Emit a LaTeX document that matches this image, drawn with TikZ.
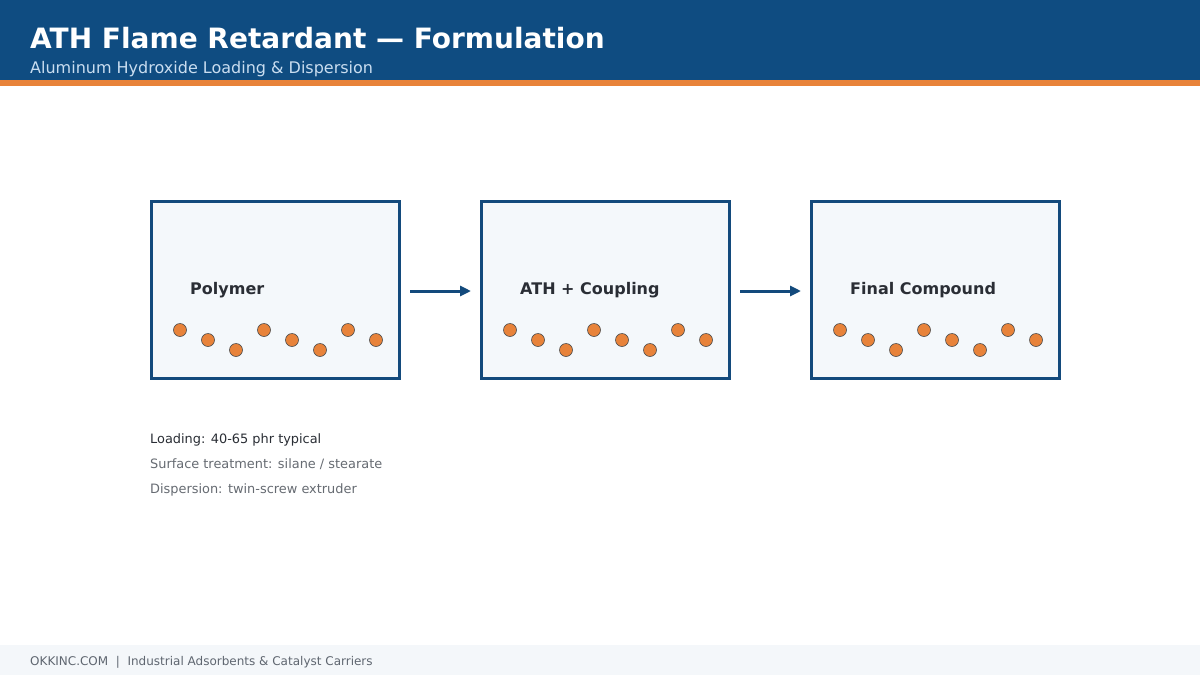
\documentclass[tikz,border=0pt]{standalone}
\usepackage{fontspec}
\setmainfont{DejaVu Sans}
\usetikzlibrary{arrows.meta}
\definecolor{hdr}{HTML}{0F4C81}
\definecolor{accent}{HTML}{E8833A}
\definecolor{subt}{HTML}{C9DDF0}
\definecolor{boxfill}{HTML}{F4F8FB}
\definecolor{boxline}{HTML}{134A7C}
\definecolor{txtdark}{HTML}{2A2E35}
\definecolor{txtgrey}{HTML}{666B72}
\definecolor{footfill}{HTML}{F4F7FA}
\definecolor{foottxt}{HTML}{5F6670}
\tikzset{
  stagebox/.style={draw=boxline, line width=2.5pt, fill=boxfill, minimum width=248pt, minimum height=177pt, inner sep=0pt, anchor=north west},
  stagelabel/.style={font=\fontsize{16}{19}\selectfont\bfseries, text=txtdark, anchor=west, inner sep=0pt},
  particle/.style={circle, draw=black!70, line width=0.6pt, fill=accent, minimum size=13pt, inner sep=0pt},
  flow/.style={draw=boxline, line width=3pt, -{Triangle[length=11pt,width=10pt]}},
  note/.style={anchor=base west, inner sep=0pt, font=\fontsize{12.9}{15}\selectfont},
}
\begin{document}
\begin{tikzpicture}[x=1pt,y=-1pt]
\useasboundingbox (0,0) rectangle (1200,675);
\fill[white] (0,0) rectangle (1200,675);
% header
\fill[hdr] (0,0) rectangle (1200,80);
\fill[accent] (0,80) rectangle (1200,86);
\node[anchor=base west, inner sep=0pt, text=white, font=\fontsize{28}{32}\selectfont\bfseries] (title) at (30,48) {ATH Flame Retardant — Formulation};
\node[anchor=base west, inner sep=0pt, text=subt, font=\fontsize{16}{19}\selectfont] (subtitle) at (30,73) {Aluminum Hydroxide Loading \& Dispersion};
% boxes
\node[stagebox] (b1) at (150,200) {};
\node[stagebox] (b2) at (480,200) {};
\node[stagebox] (b3) at (810,200) {};
\node[stagelabel] (l1) at (190,290) {Polymer};
\node[stagelabel] (l2) at (520,290) {ATH + Coupling};
\node[stagelabel] (l3) at (850,290) {Final Compound};
% particles
\foreach \bx/\bn in {151/a,481/b,811/c}{
  \foreach \i in {0,...,7}{
    \pgfmathsetmacro{\px}{\bx+29+28*\i}
    \pgfmathsetmacro{\py}{330+10*mod(\i,3)}
    \node[particle] (p\bn\i) at (\px,\py) {};
  }
}
% arrows
\coordinate (a1s) at (410,291);
\coordinate (a1e) at (471,291);
\coordinate (a2s) at (740,291);
\coordinate (a2e) at (801,291);
\draw[flow] (a1s) -- (a1e);
\draw[flow] (a2s) -- (a2e);
% notes
\node[note, text=txtdark] (n1) at (150,443) {Loading: 40-65 phr typical};
\node[note, text=txtgrey] (n2) at (150,468) {Surface treatment: silane / stearate};
\node[note, text=txtgrey] (n3) at (150,493) {Dispersion: twin-screw extruder};
% footer
\fill[footfill] (0,645) rectangle (1200,675);
\node[anchor=base west, inner sep=0pt, text=foottxt, font=\fontsize{12}{14}\selectfont] (foot) at (30,665) {OKKINC.COM \ | \ Industrial Adsorbents \& Catalyst Carriers};
\end{tikzpicture}
\end{document}
